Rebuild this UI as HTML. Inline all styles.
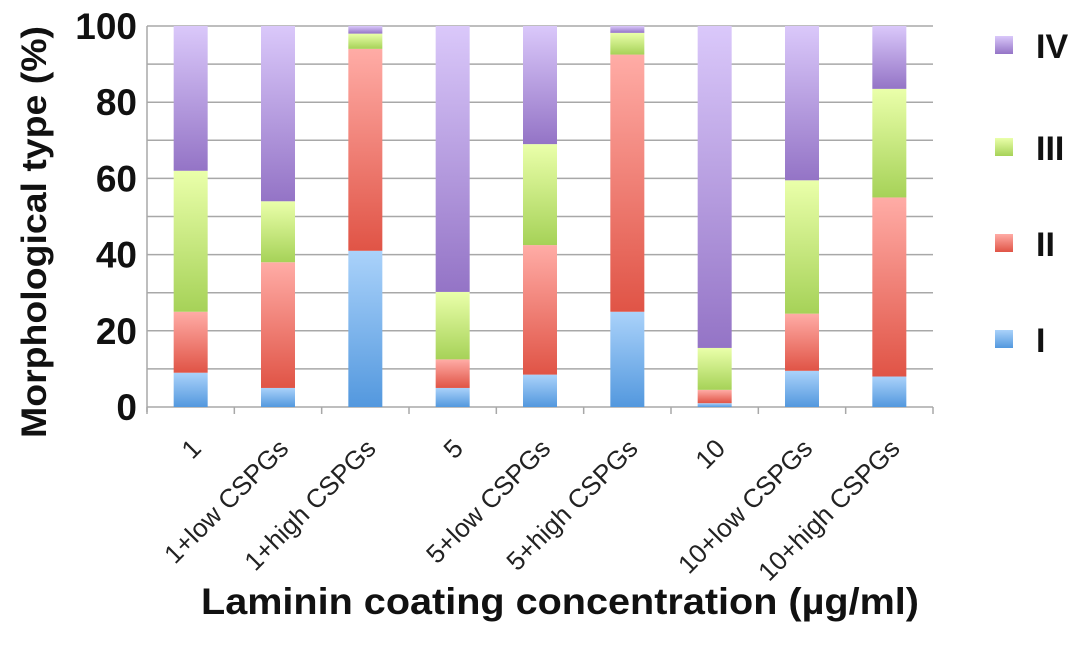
<!DOCTYPE html>
<html><head><meta charset="utf-8"><style>
body{margin:0;background:#fff}
svg{display:block;font-family:"Liberation Sans",Arial,sans-serif}
</style></head><body>
<svg id="chart" width="1087" height="659" xmlns="http://www.w3.org/2000/svg">
<defs>
<linearGradient id="gI" x1="0" y1="0" x2="0" y2="1"><stop offset="0" stop-color="#aad2fa"/><stop offset="1" stop-color="#5398de"/></linearGradient>
<linearGradient id="gII" x1="0" y1="0" x2="0" y2="1"><stop offset="0" stop-color="#ffaca6"/><stop offset="1" stop-color="#e05446"/></linearGradient>
<linearGradient id="gIII" x1="0" y1="0" x2="0" y2="1"><stop offset="0" stop-color="#eaffaa"/><stop offset="1" stop-color="#a6d258"/></linearGradient>
<linearGradient id="gIV" x1="0" y1="0" x2="0" y2="1"><stop offset="0" stop-color="#dac8fa"/><stop offset="1" stop-color="#9474c6"/></linearGradient>
</defs>
<g id="grid"></g><g id="bars"></g><g id="axes"></g>
<text x="560" y="614" text-anchor="middle" font-size="37" font-weight="bold" fill="#111" textLength="718" lengthAdjust="spacingAndGlyphs">Laminin coating concentration (µg/ml)</text>
<text transform="translate(46,232) rotate(-90)" text-anchor="middle" font-size="35" font-weight="bold" fill="#111" textLength="412" lengthAdjust="spacingAndGlyphs">Morphological type (%)</text>
<g id="legend"></g>
</svg>
<script>
const categories=["1","1+low CSPGs","1+high CSPGs","5","5+low CSPGs","5+high CSPGs","10","10+low CSPGs","10+high CSPGs"];
const typeI=[9,5,41,5,8.5,25,1,9.5,8];
const typeII=[16,33,53,7.5,34,67.5,3.5,15,47];
const typeIII=[37,16,4,17.7,26.5,5.7,11,35,28.5];
const typeIV=[38,46,2,69.8,31,1.8,84.5,40.5,16.5];
const yTicks=[0,20,40,60,80,100];
const seriesNames=["I","II","III","IV"];
const NS="http://www.w3.org/2000/svg";
const X0=147,X1=933,Y0=407,Y1=26;
const band=(X1-X0)/categories.length;
const y=v=>Y0-(v/100)*(Y0-Y1);
const xc=i=>X0+band*(i+0.5);
function mk(t,a,p){const e=document.createElementNS(NS,t);for(const k in a)e.setAttribute(k,a[k]);p.appendChild(e);return e;}
const grid=document.getElementById('grid'),bars=document.getElementById('bars'),axes=document.getElementById('axes'),legend=document.getElementById('legend');
for(let v=0;v<=100;v+=10){const l=mk('line',{x1:X0,x2:X1,y1:y(v),y2:y(v),stroke:'#a8a8a8','stroke-width':1.5},grid);

}
const ax=mk('line',{x1:X0,x2:X0,y1:Y1,y2:Y0+5,stroke:'#a8a8a8','stroke-width':1.5},axes);


for(let i=0;i<=categories.length;i++){const t=mk('line',{x1:X0+band*i,x2:X0+band*i,y1:Y0,y2:Y0+7,stroke:'#a8a8a8','stroke-width':1.5},axes);

}
yTicks.forEach(v=>{const t=mk('text',{x:137,y:y(v)+13,'text-anchor':'end','font-size':37,'font-weight':'bold',fill:'#111'},axes);t.textContent=v;

});
const series=[typeI,typeII,typeIII,typeIV];
const fills=['url(#gI)','url(#gII)','url(#gIII)','url(#gIV)'];
const bw=34;
categories.forEach((c,i)=>{let acc=0;
series.forEach((s,k)=>{const v=s[i];const r=mk('rect',{x:xc(i)-bw/2,y:y(acc+v),width:bw,height:y(acc)-y(acc+v),fill:fills[k]},bars);

acc+=v;});
const t=mk('text',{transform:`translate(${xc(i)+12},450) rotate(-45)`,'text-anchor':'end','font-size':26,fill:'#222'},axes);t.textContent=c;

});
const legY=[339,243,147,45];
seriesNames.forEach((n,k)=>{const g=mk('g',{},legend);


mk('rect',{x:995,y:legY[k]-9,width:18,height:18,fill:fills[k]},g);
const t=mk('text',{x:1036,y:legY[k]+13,'font-size':34,'font-weight':'bold',fill:'#111'},g);t.textContent=n;});
</script>
</body></html>
